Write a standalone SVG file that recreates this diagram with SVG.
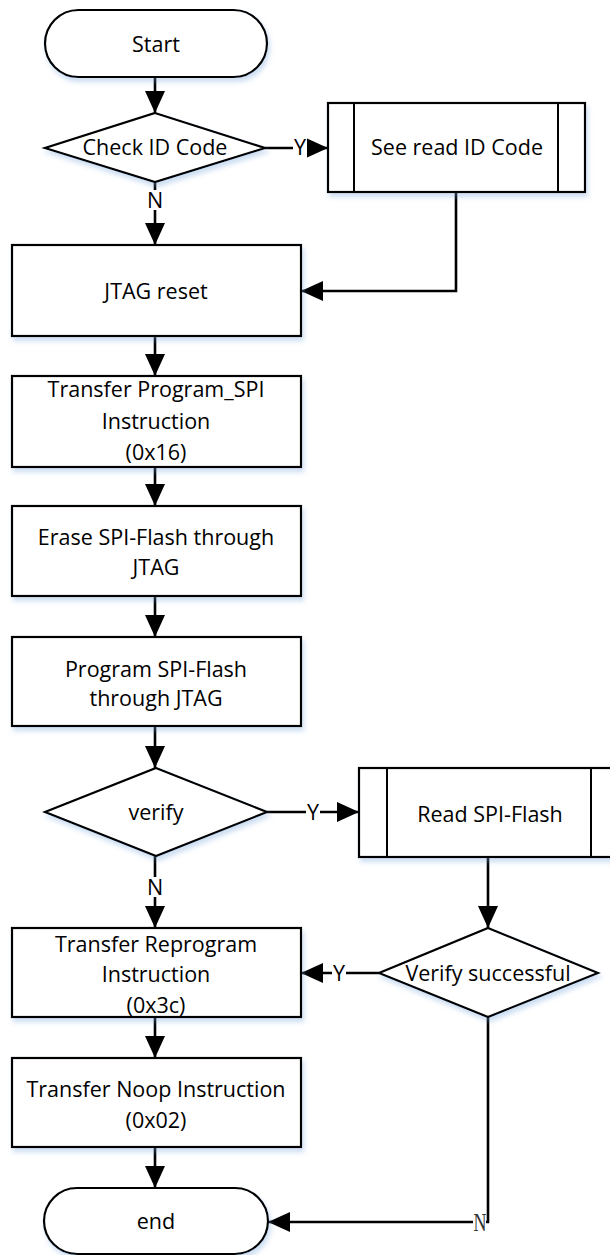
<svg xmlns="http://www.w3.org/2000/svg" width="610" height="1255" viewBox="0 0 610 1255">
<style>
.shape{fill:#fff;stroke:#000;stroke-width:2.2}
.inner{fill:none;stroke:#000;stroke-width:2}
.conn{fill:none;stroke:#000;stroke-width:2.6}
.t{font-family:"Open Sans","Liberation Sans",sans-serif;font-size:21.5px;fill:#000;text-anchor:middle}
.lbl{font-family:"Open Sans","Liberation Sans",sans-serif;font-size:21.5px;fill:#000;text-anchor:middle}
.nser{font-family:"Liberation Serif","DejaVu Serif",serif;font-size:25px;fill:#333;text-anchor:middle}
.bg{fill:#fff;stroke:none}
</style>
<defs>
<marker id="arr" viewBox="0 0 22 20" refX="22" refY="10" markerWidth="22" markerHeight="20" markerUnits="userSpaceOnUse" orient="auto">
<path d="M0,0 L22,10 L0,20 Z" fill="#000"/>
</marker>
<filter id="sh" x="-10%" y="-10%" width="125%" height="135%">
<feDropShadow dx="2" dy="4" stdDeviation="2.5" flood-color="#6f9fd8" flood-opacity="0.35"/>
</filter>
</defs>

<g id="connectors">
<path class="conn" d="M155,77 V113" marker-end="url(#arr)"/>
<path class="conn" d="M265,148 H328" marker-end="url(#arr)"/>
<path class="conn" d="M155,182 V245" marker-end="url(#arr)"/>
<path class="conn" d="M456,192 V291 H301" marker-end="url(#arr)"/>
<path class="conn" d="M155,336 V376" marker-end="url(#arr)"/>
<path class="conn" d="M155,467 V506" marker-end="url(#arr)"/>
<path class="conn" d="M155,596 V637" marker-end="url(#arr)"/>
<path class="conn" d="M155,726 V768" marker-end="url(#arr)"/>
<path class="conn" d="M267,812 H359" marker-end="url(#arr)"/>
<path class="conn" d="M155,856 V928" marker-end="url(#arr)"/>
<path class="conn" d="M488,857 V928" marker-end="url(#arr)"/>
<path class="conn" d="M379,973 H301" marker-end="url(#arr)"/>
<path class="conn" d="M155,1017 V1058" marker-end="url(#arr)"/>
<path class="conn" d="M155,1147 V1188" marker-end="url(#arr)"/>
<path class="conn" d="M488,1017 V1222 H268" marker-end="url(#arr)"/>
<rect class="bg" x="293" y="138" width="14" height="20"/>
<text class="lbl" x="300" y="155">Y</text>
<rect class="bg" x="148" y="190" width="14" height="20"/>
<text class="lbl" x="155" y="208">N</text>
<rect class="bg" x="306" y="802" width="14" height="20"/>
<text class="lbl" x="313" y="820">Y</text>
<rect class="bg" x="148" y="877" width="14" height="20"/>
<text class="lbl" x="155" y="895">N</text>
<rect class="bg" x="332" y="963" width="14" height="20"/>
<text class="lbl" x="339" y="981">Y</text>
<rect class="bg" x="473" y="1212" width="13" height="21"/>
<text class="nser" x="480" y="1231" textLength="13" lengthAdjust="spacingAndGlyphs">N</text>
</g>

<g id="start">
<rect class="shape" filter="url(#sh)" x="45" y="10" width="222" height="67" rx="33.5"/>
<text class="t" x="156" y="52">Start</text>
</g>

<g id="check-id">
<polygon class="shape" filter="url(#sh)" points="155,113 265,148 155,182 45,148"/>
<text class="t" x="155" y="155">Check ID Code</text>
</g>

<g id="see-read-id">
<rect class="shape" filter="url(#sh)" x="328" y="103" width="257" height="89"/>
<line class="inner" x1="354" y1="103" x2="354" y2="192"/>
<line class="inner" x1="558" y1="103" x2="558" y2="192"/>
<text class="t" x="457" y="155">See read ID Code</text>
</g>

<g id="jtag-reset">
<rect class="shape" filter="url(#sh)" x="12" y="245" width="289" height="91"/>
<text class="t" x="156" y="299">JTAG reset</text>
</g>

<g id="transfer-program-spi">
<rect class="shape" filter="url(#sh)" x="12" y="376" width="289" height="91"/>
<text class="t" x="156" y="397">Transfer Program_SPI</text>
<text class="t" x="156" y="429">Instruction</text>
<text class="t" x="156" y="460">(0x16)</text>
</g>

<g id="erase">
<rect class="shape" filter="url(#sh)" x="12" y="506" width="289" height="90"/>
<text class="t" x="156" y="545">Erase SPI-Flash through</text>
<text class="t" x="156" y="575">JTAG</text>
</g>

<g id="program">
<rect class="shape" filter="url(#sh)" x="12" y="637" width="289" height="89"/>
<text class="t" x="156" y="677">Program SPI-Flash</text>
<text class="t" x="156" y="706">through JTAG</text>
</g>

<g id="verify">
<polygon class="shape" filter="url(#sh)" points="156,768 267,812 156,856 45,812"/>
<text class="t" x="156" y="820">verify</text>
</g>

<g id="read-spi">
<rect class="shape" filter="url(#sh)" x="359" y="768" width="260" height="89"/>
<line class="inner" x1="387" y1="768" x2="387" y2="857"/>
<line class="inner" x1="591" y1="768" x2="591" y2="857"/>
<text class="t" x="490" y="822">Read SPI-Flash</text>
</g>

<g id="verify-successful">
<polygon class="shape" filter="url(#sh)" points="488,928 598,973 488,1017 379,973"/>
<text class="t" x="488" y="981">Verify successful</text>
</g>

<g id="transfer-reprogram">
<rect class="shape" filter="url(#sh)" x="12" y="928" width="289" height="89"/>
<text class="t" x="156" y="952">Transfer Reprogram</text>
<text class="t" x="156" y="982">Instruction</text>
<text class="t" x="156" y="1013">(0x3c)</text>
</g>

<g id="transfer-noop">
<rect class="shape" filter="url(#sh)" x="12" y="1058" width="289" height="89"/>
<text class="t" x="156" y="1097">Transfer Noop Instruction</text>
<text class="t" x="156" y="1128">(0x02)</text>
</g>

<g id="end">
<rect class="shape" filter="url(#sh)" x="44" y="1188" width="224" height="66" rx="33"/>
<text class="t" x="156" y="1229">end</text>
</g>
</svg>
